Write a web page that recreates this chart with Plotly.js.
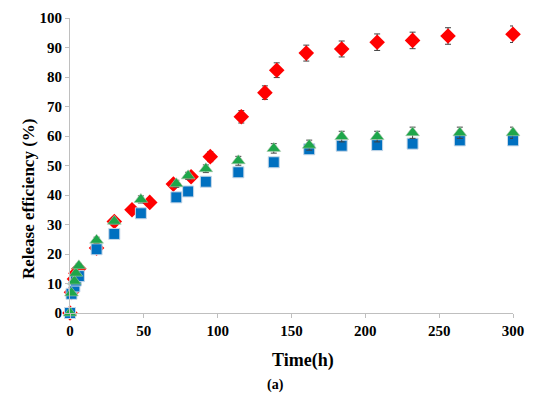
<!DOCTYPE html>
<html><head><meta charset="utf-8">
<script src="https://cdn.plot.ly/plotly-3.0.1.min.js"></script>
<style>html,body{margin:0;padding:0;background:#fff}#c{width:550px;height:404px}</style>
</head><body><div id="c"></div>
<script>
const redX = [0,1,3,4,6,18,30,42,54,70,82,95,116,132,140,160,184,208,232,256,300];
const redY = [0,7,11.5,13.5,15,22,31,35,37.5,43.7,46.2,53,66.5,74.7,82.3,88.1,89.5,91.8,92.4,93.9,94.5];
const redErr = [0.5,0.8,0.8,0.8,0.8,1,1,1,1,1.2,1.2,1.7,2.1,2.3,2.5,2.7,2.7,2.8,2.8,2.8,2.8];
const gbX = [0,1,3,4,6,18,30,48,72,80,92,114,138,162,184,208,232,264,300];
const blueY = [0,6.5,9,11,12.5,21.6,26.8,33.8,39.2,41.2,44.5,47.7,51.1,55.5,56.7,56.9,57.4,58.5,58.5];
const blueErr = [0.3,0.6,0.6,0.6,0.6,0.8,0.8,0.8,0.8,0.8,0.8,0.8,0.8,1,1,1,1,1,1];
const greenY = [0,6.8,10.8,13.5,16,24.7,31.1,38.5,43.8,46.5,48.9,51.6,55.8,56.9,59.8,59.8,61.1,61.1,61.1];
const greenErr = [0.3,0.8,0.8,0.8,0.8,1,1,1.2,1.2,1.2,1.3,1.5,1.6,1.7,1.8,1.8,1.9,1.9,1.9];

const eb = (arr) => ({type:'data', array:arr, visible:true, color:'#404040', thickness:1, width:3});
const traces = [
  {x:redX, y:redY, type:'scatter', mode:'markers', cliponaxis:false, error_y:eb(redErr),
   marker:{symbol:'diamond', size:12, color:'#ff0000', line:{width:0}}},
  {x:gbX, y:blueY, type:'scatter', mode:'markers', cliponaxis:false, error_y:eb(blueErr),
   marker:{symbol:'square', size:11, color:'#0070c0', line:{width:1, color:'#c8d8e8'}}},
  {x:gbX, y:greenY, type:'scatter', mode:'markers', cliponaxis:false, error_y:eb(greenErr),
   marker:{symbol:'triangle-up', size:12, color:'#1ea64a', line:{width:0.6, color:'#b0c8b0'}}}
];
const FAM = 'Liberation Serif';
const tf = {family:FAM, size:15, color:'#000', weight:'bold'};
const layout = {
  width:550, height:404, showlegend:false,
  paper_bgcolor:'#fff', plot_bgcolor:'#fff',
  margin:{l:70, r:37, t:18, b:91},
  font:{family:FAM},
  xaxis:{range:[0,300], dtick:50, tick0:0, showgrid:false, zeroline:false,
    showline:true, linecolor:'#bfbfbf', linewidth:1, ticks:'outside', ticklen:4, tickcolor:'#bfbfbf',
    tickfont:tf},
  yaxis:{range:[0,100], dtick:10, tick0:0, showgrid:false, zeroline:false,
    showline:true, linecolor:'#bfbfbf', linewidth:1, ticks:'outside', ticklen:4, tickcolor:'#bfbfbf',
    tickfont:tf},
  annotations:[
    {text:'Time(h)', xref:'paper', yref:'paper', x:(303-70)/443, y:(313-360)/295, xanchor:'center', yanchor:'middle', showarrow:false,
     font:{family:FAM, size:18, color:'#000', weight:'bold'}},
    {text:'Release efficiency (%)', xref:'paper', yref:'paper', x:(28-70)/443, y:(313-199)/295, textangle:-90, xanchor:'center', yanchor:'middle', showarrow:false,
     font:{family:FAM, size:17, color:'#000', weight:'bold'}},
    {text:'(a)', xref:'paper', yref:'paper', x:(275-70)/443, y:(313-385)/295, yanchor:'middle', xanchor:'center', showarrow:false,
     font:{family:FAM, size:14, color:'#000', weight:'bold'}}]
};
Plotly.newPlot('c', traces, layout, {staticPlot:true, displayModeBar:false});
</script></body></html>
